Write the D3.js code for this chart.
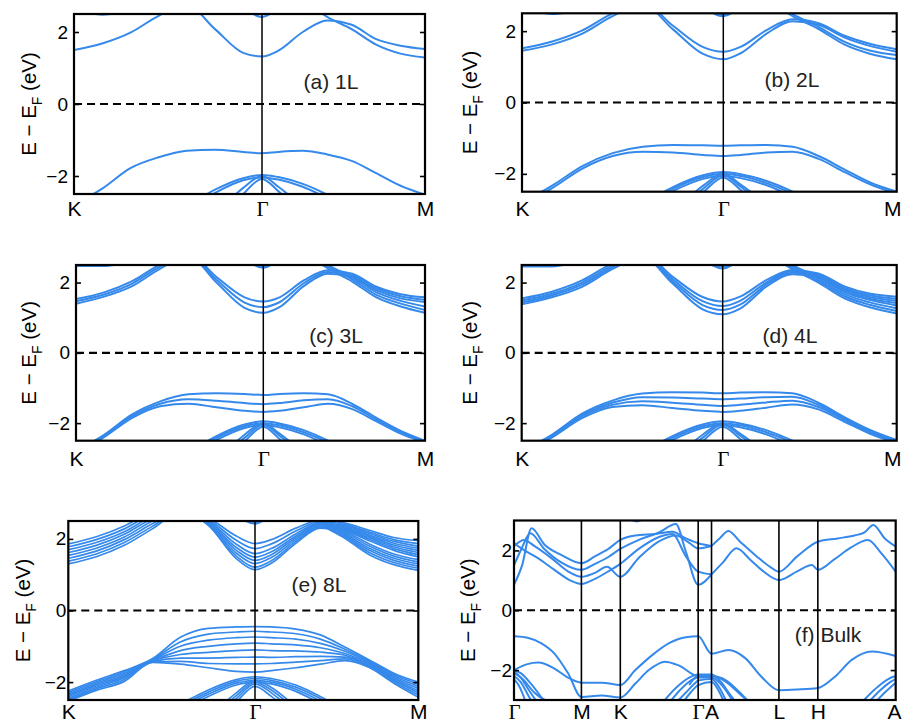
<!DOCTYPE html>
<html><head><meta charset="utf-8">
<script src="https://cdn.jsdelivr.net/npm/d3@7"></script>
<style>body{margin:0;background:#fff}</style>
</head><body>
<svg id="c" width="902" height="724"></svg>
<script>
const _ = null;
// k-path sampling for the layered panels: K(0) -> Γ(1) -> M(2)
const kGrid = [0, .15, .3, .45, .6, .75, .9, 1, 1.1, 1.25, 1.4, 1.55, 1.7, 1.85, 2];
const layerTicks = [0, 1, 2];
const layerTickLabels = ["K", "Γ", "M"];
const yTicks = [-2, 0, 2];
const bulkTicks = [0, 1, 1.577, 2.732, 2.93, 3.93, 4.507, 5.662];
const bulkTickLabels = ["Γ", "M", "K", "Γ", "A", "L", "H", "A"];

// ---------- 1L ----------
const cb1L = [
 [1.50,1.68,1.98,2.45,2.75,2.08,1.42,1.32,1.48,2.00,2.32,2.20,1.80,1.62,1.53],
 [_,_,_,_,_,_,_,_,_,2.90,2.42,2.08,1.65,1.40,1.29],
 [_,_,_,_,_,_,2.70,2.42,2.70,_,_,_,_,_,_],
 [2.70,2.48,2.62,_,_,_,_,_,_,_,_,_,_,_,_]
];
const vb1L = [
 [-2.80,-2.35,-1.78,-1.48,-1.30,-1.27,-1.33,-1.37,-1.33,-1.30,-1.40,-1.58,-1.92,-2.27,-2.52],
 [_,_,_,_,-2.85,-2.38,-2.06,-1.97,-2.03,-2.22,-2.52,-2.90,_,_,_],
 [_,_,_,_,-2.95,-2.47,-2.12,-2.04,-2.10,-2.30,-2.62,-3.00,_,_,_],
 [_,_,_,_,_,-3.10,-2.33,-2.00,-2.30,-2.85,_,_,_,_,_],
 [_,_,_,_,_,-3.30,-2.50,-2.08,-2.42,-3.10,_,_,_,_,_]
];
// ---------- 2L ----------
const cb2L = [
 [1.45,1.63,1.93,2.42,2.75,2.05,1.36,1.21,1.38,1.93,2.28,2.18,1.82,1.58,1.42],
 [1.52,1.71,2.02,2.50,2.80,2.15,1.55,1.42,1.56,2.03,2.33,2.22,1.87,1.64,1.49],
 [_,_,_,_,_,_,_,_,_,2.90,2.42,2.06,1.62,1.36,1.21],
 [_,_,_,_,_,_,_,_,_,2.95,2.48,2.12,1.70,1.45,1.33],
 [_,_,_,_,_,_,2.70,2.42,2.70,_,_,_,_,_,_],
 [_,_,_,_,_,_,2.78,2.47,2.78,_,_,_,_,_,_],
 [2.70,2.48,2.62,_,_,_,_,_,_,_,_,_,_,_,_]
];
const vb2L = [
 [-2.80,-2.33,-1.78,-1.42,-1.24,-1.19,-1.20,-1.21,-1.20,-1.19,-1.24,-1.50,-1.88,-2.25,-2.50],
 [-2.85,-2.40,-1.85,-1.50,-1.38,-1.40,-1.47,-1.50,-1.47,-1.40,-1.38,-1.58,-1.95,-2.30,-2.55],
 [_,_,_,_,-2.85,-2.37,-2.04,-1.95,-2.01,-2.20,-2.50,-2.90,_,_,_],
 [_,_,_,_,-2.90,-2.42,-2.09,-2.00,-2.06,-2.26,-2.56,-2.95,_,_,_],
 [_,_,_,_,-2.95,-2.48,-2.14,-2.05,-2.12,-2.32,-2.64,-3.00,_,_,_],
 [_,_,_,_,_,-3.10,-2.33,-2.00,-2.30,-2.85,_,_,_,_,_],
 [_,_,_,_,_,-3.20,-2.42,-2.04,-2.36,-2.95,_,_,_,_,_],
 [_,_,_,_,_,-3.30,-2.52,-2.10,-2.45,-3.10,_,_,_,_,_]
];
// ---------- 3L ----------
const cb3L = [
 [1.40,1.60,1.90,2.40,2.75,2.00,1.28,1.14,1.30,1.90,2.25,2.15,1.78,1.55,1.45],
 [1.47,1.66,1.97,2.46,2.78,2.08,1.43,1.30,1.44,1.98,2.30,2.20,1.83,1.61,1.51],
 [1.53,1.72,2.04,2.52,2.82,2.16,1.58,1.46,1.58,2.06,2.35,2.25,1.88,1.67,1.58],
 [_,_,_,_,_,_,_,_,_,2.88,2.40,2.03,1.58,1.32,1.14],
 [_,_,_,_,_,_,_,_,_,2.92,2.45,2.09,1.65,1.40,1.22],
 [_,_,_,_,_,_,_,_,_,2.97,2.50,2.15,1.72,1.48,1.32],
 [_,_,_,_,_,_,2.70,2.42,2.70,_,_,_,_,_,_],
 [_,_,_,_,_,_,2.76,2.46,2.76,_,_,_,_,_,_],
 [2.47,2.47,2.65,_,_,_,_,_,_,_,_,_,_,_,_]
];
const vb3L = [
 [-2.80,-2.33,-1.75,-1.38,-1.18,-1.15,-1.17,-1.20,-1.17,-1.15,-1.18,-1.45,-1.85,-2.22,-2.50],
 [-2.82,-2.36,-1.80,-1.45,-1.32,-1.36,-1.43,-1.46,-1.43,-1.35,-1.32,-1.52,-1.90,-2.26,-2.53],
 [-2.85,-2.40,-1.85,-1.52,-1.45,-1.55,-1.65,-1.68,-1.65,-1.55,-1.45,-1.60,-1.95,-2.30,-2.56],
 [_,_,_,_,-2.85,-2.37,-2.04,-1.95,-2.01,-2.20,-2.50,-2.90,_,_,_],
 [_,_,_,_,-2.90,-2.42,-2.09,-2.00,-2.06,-2.26,-2.56,-2.95,_,_,_],
 [_,_,_,_,-2.95,-2.48,-2.14,-2.05,-2.12,-2.32,-2.64,-3.00,_,_,_],
 [_,_,_,_,_,-3.10,-2.33,-2.00,-2.30,-2.85,_,_,_,_,_],
 [_,_,_,_,_,-3.20,-2.42,-2.04,-2.36,-2.95,_,_,_,_,_],
 [_,_,_,_,_,-3.30,-2.52,-2.10,-2.45,-3.10,_,_,_,_,_]
];
// ---------- 4L ----------
const cb4L = [
 [1.38,1.58,1.88,2.38,2.74,1.98,1.24,1.10,1.26,1.88,2.24,2.14,1.77,1.53,1.42],
 [1.43,1.63,1.94,2.43,2.77,2.04,1.36,1.22,1.37,1.94,2.28,2.18,1.81,1.58,1.48],
 [1.49,1.68,2.00,2.48,2.80,2.10,1.47,1.33,1.48,2.00,2.32,2.22,1.85,1.63,1.54],
 [1.55,1.74,2.06,2.54,2.83,2.17,1.59,1.46,1.60,2.07,2.36,2.26,1.89,1.68,1.60],
 [_,_,_,_,_,_,_,_,_,2.87,2.38,2.00,1.55,1.29,1.12],
 [_,_,_,_,_,_,_,_,_,2.90,2.42,2.05,1.61,1.36,1.19],
 [_,_,_,_,_,_,_,_,_,2.94,2.46,2.10,1.67,1.43,1.27],
 [_,_,_,_,_,_,_,_,_,2.98,2.50,2.15,1.73,1.50,1.35],
 [_,_,_,_,_,_,2.68,2.40,2.68,_,_,_,_,_,_],
 [_,_,_,_,_,_,2.74,2.45,2.74,_,_,_,_,_,_],
 [2.46,2.46,2.64,_,_,_,_,_,_,_,_,_,_,_,_]
];
const vb4L = [
 [-2.80,-2.33,-1.73,-1.36,-1.16,-1.12,-1.13,-1.15,-1.13,-1.12,-1.15,-1.42,-1.83,-2.20,-2.48],
 [-2.82,-2.35,-1.77,-1.42,-1.26,-1.27,-1.30,-1.32,-1.30,-1.26,-1.25,-1.48,-1.87,-2.23,-2.51],
 [-2.84,-2.38,-1.81,-1.48,-1.38,-1.42,-1.48,-1.51,-1.48,-1.41,-1.36,-1.54,-1.91,-2.27,-2.54],
 [-2.86,-2.41,-1.86,-1.54,-1.49,-1.57,-1.65,-1.68,-1.65,-1.56,-1.47,-1.61,-1.96,-2.31,-2.57],
 [_,_,_,_,-2.85,-2.37,-2.04,-1.95,-2.01,-2.20,-2.50,-2.90,_,_,_],
 [_,_,_,_,-2.90,-2.42,-2.09,-2.00,-2.06,-2.26,-2.56,-2.95,_,_,_],
 [_,_,_,_,-2.95,-2.48,-2.14,-2.05,-2.12,-2.32,-2.64,-3.00,_,_,_],
 [_,_,_,_,_,-3.10,-2.33,-2.00,-2.30,-2.85,_,_,_,_,_],
 [_,_,_,_,_,-3.20,-2.42,-2.04,-2.36,-2.95,_,_,_,_,_],
 [_,_,_,_,_,-3.30,-2.52,-2.10,-2.45,-3.10,_,_,_,_,_]
];
// ---------- 8L ----------
const cb8L = [
 [1.30,1.50,1.82,2.28,2.75,2.38,1.45,1.14,1.32,1.88,2.30,2.22,1.95,1.68,1.50],
 [1.38,1.58,1.90,2.35,2.78,2.40,1.52,1.21,1.39,1.93,2.33,2.25,1.99,1.73,1.56],
 [1.46,1.66,1.98,2.42,2.80,2.43,1.60,1.31,1.48,1.98,2.36,2.28,2.03,1.78,1.62],
 [1.54,1.74,2.05,2.50,2.83,2.46,1.68,1.40,1.56,2.03,2.39,2.31,2.07,1.83,1.68],
 [1.62,1.82,2.13,2.57,2.86,2.49,1.76,1.49,1.64,2.08,2.42,2.34,2.11,1.88,1.74],
 [1.70,1.90,2.20,2.64,2.89,2.52,1.85,1.59,1.73,2.14,2.45,2.37,2.15,1.93,1.80],
 [1.78,1.98,2.28,2.71,2.92,2.56,1.96,1.73,1.86,2.22,2.48,2.40,2.19,1.98,1.87],
 [1.86,2.06,2.36,2.78,2.95,2.60,2.08,1.87,1.98,2.30,2.52,2.44,2.24,2.04,1.95],
 [_,_,_,_,_,_,_,_,_,2.85,2.40,2.02,1.56,1.28,1.12],
 [_,_,_,_,_,_,_,_,_,2.88,2.43,2.06,1.62,1.34,1.18],
 [_,_,_,_,_,_,_,_,_,2.91,2.46,2.10,1.68,1.40,1.24],
 [_,_,_,_,_,_,_,_,_,2.94,2.49,2.14,1.74,1.46,1.30],
 [_,_,_,_,_,_,_,_,_,2.97,2.52,2.18,1.80,1.52,1.36],
 [_,_,_,_,_,_,_,_,_,3.00,2.55,2.22,1.86,1.58,1.42],
 [_,_,_,_,_,_,2.68,2.42,2.68,_,_,_,_,_,_],
 [_,_,_,_,_,_,2.74,2.46,2.74,_,_,_,_,_,_]
];
const vb8L = [
 [-2.25,-1.95,-1.68,-1.35,-0.75,-0.50,-0.46,-0.45,-0.46,-0.52,-0.68,-1.02,-1.38,-1.75,-2.00],
 [-2.29,-1.99,-1.72,-1.37,-0.88,-0.66,-0.60,-0.58,-0.60,-0.65,-0.80,-1.08,-1.41,-1.79,-2.06],
 [-2.33,-2.03,-1.76,-1.39,-1.00,-0.83,-0.76,-0.74,-0.76,-0.80,-0.92,-1.14,-1.44,-1.83,-2.12],
 [-2.37,-2.07,-1.80,-1.41,-1.12,-1.00,-0.93,-0.91,-0.93,-0.96,-1.04,-1.20,-1.47,-1.87,-2.18],
 [-2.41,-2.11,-1.84,-1.42,-1.23,-1.17,-1.12,-1.10,-1.12,-1.13,-1.16,-1.25,-1.50,-1.91,-2.24],
 [-2.45,-2.15,-1.88,-1.43,-1.33,-1.33,-1.31,-1.30,-1.31,-1.29,-1.28,-1.30,-1.53,-1.95,-2.30],
 [-2.49,-2.19,-1.93,-1.44,-1.42,-1.48,-1.49,-1.49,-1.48,-1.44,-1.40,-1.35,-1.56,-1.99,-2.36],
 [-2.53,-2.23,-1.98,-1.45,-1.50,-1.60,-1.70,-1.72,-1.68,-1.60,-1.50,-1.40,-1.59,-2.03,-2.42],
 [_,_,_,_,-2.62,-2.22,-1.93,-1.85,-1.90,-2.08,-2.40,-2.80,_,_,_],
 [_,_,_,_,-2.68,-2.28,-1.98,-1.90,-1.95,-2.14,-2.46,-2.86,_,_,_],
 [_,_,_,_,-2.74,-2.34,-2.03,-1.95,-2.00,-2.20,-2.53,-2.93,_,_,_],
 [_,_,_,_,-2.80,-2.40,-2.08,-2.00,-2.05,-2.26,-2.60,-3.00,_,_,_],
 [_,_,_,_,_,-3.00,-2.30,-1.95,-2.15,-2.70,_,_,_,_,_],
 [_,_,_,_,_,-3.10,-2.38,-2.00,-2.22,-2.80,_,_,_,_,_],
 [_,_,_,_,_,-3.20,-2.46,-2.05,-2.30,-2.90,_,_,_,_,_],
 [_,_,_,_,_,-3.30,-2.55,-2.12,-2.40,-3.00,_,_,_,_,_]
];
// ---------- Bulk: [k, E] pairs along Γ-M-K-Γ-A-L-H-A ----------
const bulkCB = [
 [[0,0.85],[0.12,1.5],[0.26,2.74],[0.45,2.2],[0.7,1.85],[1,1.57],[1.2,1.8],[1.4,2.05],[1.577,2.35],[1.8,2.5],[2.1,2.55],[2.35,2.62],[2.55,2.4],[2.732,2.24],[2.93,2.15]],
 [[0,1.5],[0.12,2.1],[0.24,2.57],[0.45,2.05],[0.7,1.6],[1,1.35],[1.2,1.55],[1.4,1.78],[1.577,2.05],[1.85,2.35],[2.15,2.6],[2.4,2.88],[2.55,1.95],[2.732,0.85],[2.93,1.2]],
 [[0,2.15],[0.15,2.35],[0.3,2.15],[0.55,1.75],[0.8,1.3],[1,1.12],[1.2,1.25],[1.38,1.45],[1.577,1.12],[1.85,1.75],[2.15,2.3],[2.4,2.5],[2.6,2.25],[2.732,2.07],[2.93,2.15]],
 [[0,2.25],[0.12,2.05],[0.35,1.75],[0.6,1.35],[0.85,0.98],[1,0.88],[1.2,1.05],[1.4,1.3],[1.577,1.55],[1.85,2.05],[2.15,2.45],[2.35,2.55],[2.55,1.8],[2.732,1.29],[2.93,1.2]],
 [[1.72,3.05],[1.82,2.97],[1.92,3.05]],
 [[2.93,2.15],[3.05,2.4],[3.18,2.65],[3.35,2.3],[3.6,1.8],[3.8,1.45],[3.93,1.29],[4.2,1.8],[4.507,2.29],[4.8,2.4],[5.05,2.5],[5.2,2.6],[5.33,2.85],[5.5,2.4],[5.662,2.13]],
 [[2.93,1.2],[3.1,1.6],[3.3,2.07],[3.5,1.7],[3.7,1.3],[3.93,1.01],[4.2,1.3],[4.42,1.51],[4.507,1.35],[4.75,1.7],[5.0,2.1],[5.25,2.35],[5.45,1.9],[5.662,1.29]]
];
const bulkVB = [
 [[0,-0.87],[0.2,-0.92],[0.4,-1.1],[0.6,-1.45],[0.8,-2.1],[1,-2.9],[1.3,-2.85],[1.577,-2.92],[1.8,-2.45],[2.0,-2.0],[2.24,-1.72],[2.45,-1.85],[2.732,-2.2],[2.93,-2.2],[3.15,-2.4],[3.35,-2.8],[3.5,-3.1]],
 [[0,-2.0],[0.2,-1.8],[0.36,-1.75],[0.6,-1.95],[0.8,-2.25],[1,-2.42],[1.3,-2.42],[1.577,-2.5],[1.8,-2.0],[2.05,-1.5],[2.3,-1.1],[2.55,-0.9],[2.732,-0.87],[2.93,-1.45],[3.18,-1.33],[3.43,-1.6],[3.67,-2.22],[3.93,-2.67],[4.2,-2.65],[4.507,-2.6],[4.76,-2.22],[5.01,-1.66],[5.31,-1.38],[5.662,-1.53]],
 [[0,-2.0],[0.1,-2.1],[0.25,-2.45],[0.45,-3.05]],
 [[0,-2.1],[0.1,-2.25],[0.2,-2.6],[0.35,-3.1]],
 [[0,-2.2],[0.1,-2.4],[0.2,-2.8],[0.3,-3.2]],
 [[0,-2.3],[0.08,-2.55],[0.18,-3.1]],
 [[0,-2.05],[0.15,-2.35],[0.3,-2.75],[0.55,-3.1]],
 [[2.2,-3.1],[2.4,-2.6],[2.6,-2.25],[2.732,-2.15],[2.93,-2.15],[3.05,-2.35],[3.2,-2.8],[3.3,-3.1]],
 [[2.3,-3.1],[2.45,-2.7],[2.62,-2.35],[2.732,-2.25],[2.93,-2.25],[3.1,-2.55],[3.25,-3.05]],
 [[2.4,-3.1],[2.55,-2.75],[2.68,-2.45],[2.732,-2.35],[2.93,-2.3],[3.05,-2.6],[3.15,-3.05]],
 [[2.5,-3.1],[2.62,-2.75],[2.732,-2.5],[2.93,-2.4],[3.05,-2.75],[3.12,-3.1]],
 [[2.6,-2.5],[2.732,-2.2],[2.93,-2.2],[3.15,-2.35],[3.35,-2.75],[3.5,-3.1]],
 [[5.15,-3.1],[5.35,-2.65],[5.55,-2.3],[5.662,-2.2]],
 [[5.25,-3.1],[5.42,-2.7],[5.58,-2.4],[5.662,-2.3]],
 [[5.35,-3.1],[5.5,-2.75],[5.662,-2.42]]
];

// ---------- layout ----------
const BLUE = "#3589eb";
const SANS = "'Liberation Sans', Arial, Helvetica, sans-serif";
const SERIF = "'Liberation Serif', 'Times New Roman', serif";
const W = 902;
const svg = d3.select("#c");

const layerPanels = [
 {cb: cb1L, vb: vb1L, tag: "(a) 1L", x0: 74, xG: 262, x1: 425, top: 14, bot: 194, tagX: 331, tagY: 89, ylabX: 29, gap: 6, xlabY: 216, lw: 2},
 {cb: cb2L, vb: vb2L, tag: "(b) 2L", x0: 522, xG: 723.3, x1: 896.7, top: 13.3, bot: 191.7, tagX: 792, tagY: 87, ylabX: 470, gap: 6, xlabY: 216, lw: 2},
 {cb: cb3L, vb: vb3L, tag: "(c) 3L", x0: 76, xG: 263.3, x1: 425, top: 265, bot: 440.7, tagX: 336, tagY: 343, ylabX: 29, gap: 6, xlabY: 466, lw: 2},
 {cb: cb4L, vb: vb4L, tag: "(d) 4L", x0: 521.7, xG: 722.7, x1: 896.7, top: 265, bot: 440.7, tagX: 790, tagY: 343, ylabX: 470, gap: 6, xlabY: 466, lw: 2},
 {cb: cb8L, vb: vb8L, tag: "(e) 8L", x0: 68.3, xG: 255, x1: 418.3, top: 521, bot: 700, tagX: 319, tagY: 592, ylabX: 23, gap: 2, xlabY: 719, lw: 1.7}
];

let clipId = 0;
function frame(g, x0, x1, top, bot, y, xLabels, tickVals, xScale, p) {
  g.append("line").attr("x1", x0).attr("x2", x1).attr("y1", y(0)).attr("y2", y(0))
    .attr("stroke", "#000").attr("stroke-width", 2.2).attr("stroke-dasharray", "8,5");
  const fmt = d => d < 0 ? "\u2212" + Math.abs(d) : String(d);
  const la = g.append("g").attr("transform", `translate(${x0},0)`)
    .call(d3.axisLeft(y).tickValues(yTicks).tickSize(-5).tickPadding(p.gap).tickFormat(fmt));
  la.select(".domain").remove();
  la.selectAll("line").attr("stroke-width", 1.6);
  la.selectAll("text").attr("font-family", SANS).attr("font-size", 19).attr("fill", "#000");
  const ra = g.append("g").attr("transform", `translate(${x1},0)`)
    .call(d3.axisRight(y).tickValues(yTicks).tickSize(-5).tickFormat(""));
  ra.select(".domain").remove();
  ra.selectAll("line").attr("stroke-width", 1.6);
  const xa = g.append("g").attr("transform", `translate(0,${bot})`)
    .call(d3.axisBottom(xScale).tickValues(tickVals).tickSize(0).tickFormat((d, i) => xLabels[i]));
  xa.select(".domain").remove();
  xa.selectAll("text").attr("y", p.xlabY - bot).attr("dy", 0)
    .attr("font-size", 21).attr("fill", "#000")
    .attr("font-family", (d, i) => xLabels[i] === "Γ" ? SERIF : SANS)
    .attr("text-anchor", d => xScale(d) + 9 > W ? "end" : "middle")
    .attr("x", d => xScale(d) + 9 > W ? W - xScale(d) - 1 : 0);
  g.append("rect").attr("x", x0).attr("y", top).attr("width", x1 - x0).attr("height", bot - top)
    .attr("fill", "none").attr("stroke", "#000").attr("stroke-width", 2.2);
  const cy = (top + bot) / 2;
  const t = g.append("text").attr("transform", `translate(${p.ylabX},${cy}) rotate(-90)`)
    .attr("text-anchor", "middle").attr("dy", "0.35em")
    .attr("font-family", SANS).attr("font-size", 20.5).attr("fill", "#000");
  t.append("tspan").text("E \u2212 E");
  t.append("tspan").attr("font-size", 14).attr("dy", "0.45em").text("F");
  t.append("tspan").attr("dy", "-0.3em").text(" (eV)");
  g.append("text").attr("x", p.tagX).attr("y", p.tagY).attr("text-anchor", "middle")
    .attr("font-family", SANS).attr("font-size", 21).attr("fill", "#222").text(p.tag);
}

layerPanels.forEach(p => {
  const g = svg.append("g");
  const x = d3.scaleLinear().domain([0, 1, 2]).range([p.x0, p.xG, p.x1]);
  const y = d3.scaleLinear().domain([-2.5, 2.5]).range([p.bot, p.top]);
  const id = "clip" + (clipId++);
  svg.append("clipPath").attr("id", id).append("rect")
    .attr("x", p.x0).attr("y", p.top).attr("width", p.x1 - p.x0).attr("height", p.bot - p.top);
  const line = d3.line().defined(d => d[1] !== null).x(d => x(d[0])).y(d => y(d[1])).curve(d3.curveMonotoneX);
  const bands = p.cb.concat(p.vb).map(b => kGrid.map((k, i) => [k, b[i]]));
  g.append("g").attr("clip-path", `url(#${id})`).selectAll("path").data(bands).join("path")
    .attr("d", line).attr("fill", "none").attr("stroke", BLUE).attr("stroke-width", p.lw);
  g.append("line").attr("x1", x(1)).attr("x2", x(1)).attr("y1", p.top).attr("y2", p.bot)
    .attr("stroke", "#000").attr("stroke-width", 1.5);
  frame(g, p.x0, p.x1, p.top, p.bot, y, layerTickLabels, layerTicks, x, p);
});

(function () {
  const p = {x0: 514, x1: 895.7, top: 520.5, bot: 700, tagX: 828, tagY: 642, ylabX: 468, gap: 2, xlabY: 719, tag: "(f) Bulk"};
  const g = svg.append("g");
  const x = d3.scaleLinear().domain([0, bulkTicks[bulkTicks.length - 1]]).range([p.x0, p.x1]);
  const y = d3.scaleLinear().domain([-3, 3]).range([p.bot, p.top]);
  svg.append("clipPath").attr("id", "clipBulk").append("rect")
    .attr("x", p.x0).attr("y", p.top).attr("width", p.x1 - p.x0).attr("height", p.bot - p.top);
  const line = d3.line().x(d => x(d[0])).y(d => y(d[1])).curve(d3.curveMonotoneX);
  g.append("g").attr("clip-path", "url(#clipBulk)").selectAll("path").data(bulkCB.concat(bulkVB)).join("path")
    .attr("d", line).attr("fill", "none").attr("stroke", BLUE).attr("stroke-width", 2);
  g.selectAll("line.hs").data(bulkTicks.slice(1, -1)).join("line").attr("class", "hs")
    .attr("x1", d => x(d)).attr("x2", d => x(d)).attr("y1", p.top).attr("y2", p.bot)
    .attr("stroke", "#000").attr("stroke-width", 1.6);
  frame(g, p.x0, p.x1, p.top, p.bot, y, bulkTickLabels, bulkTicks, x, p);
})();
</script>
</body></html>
